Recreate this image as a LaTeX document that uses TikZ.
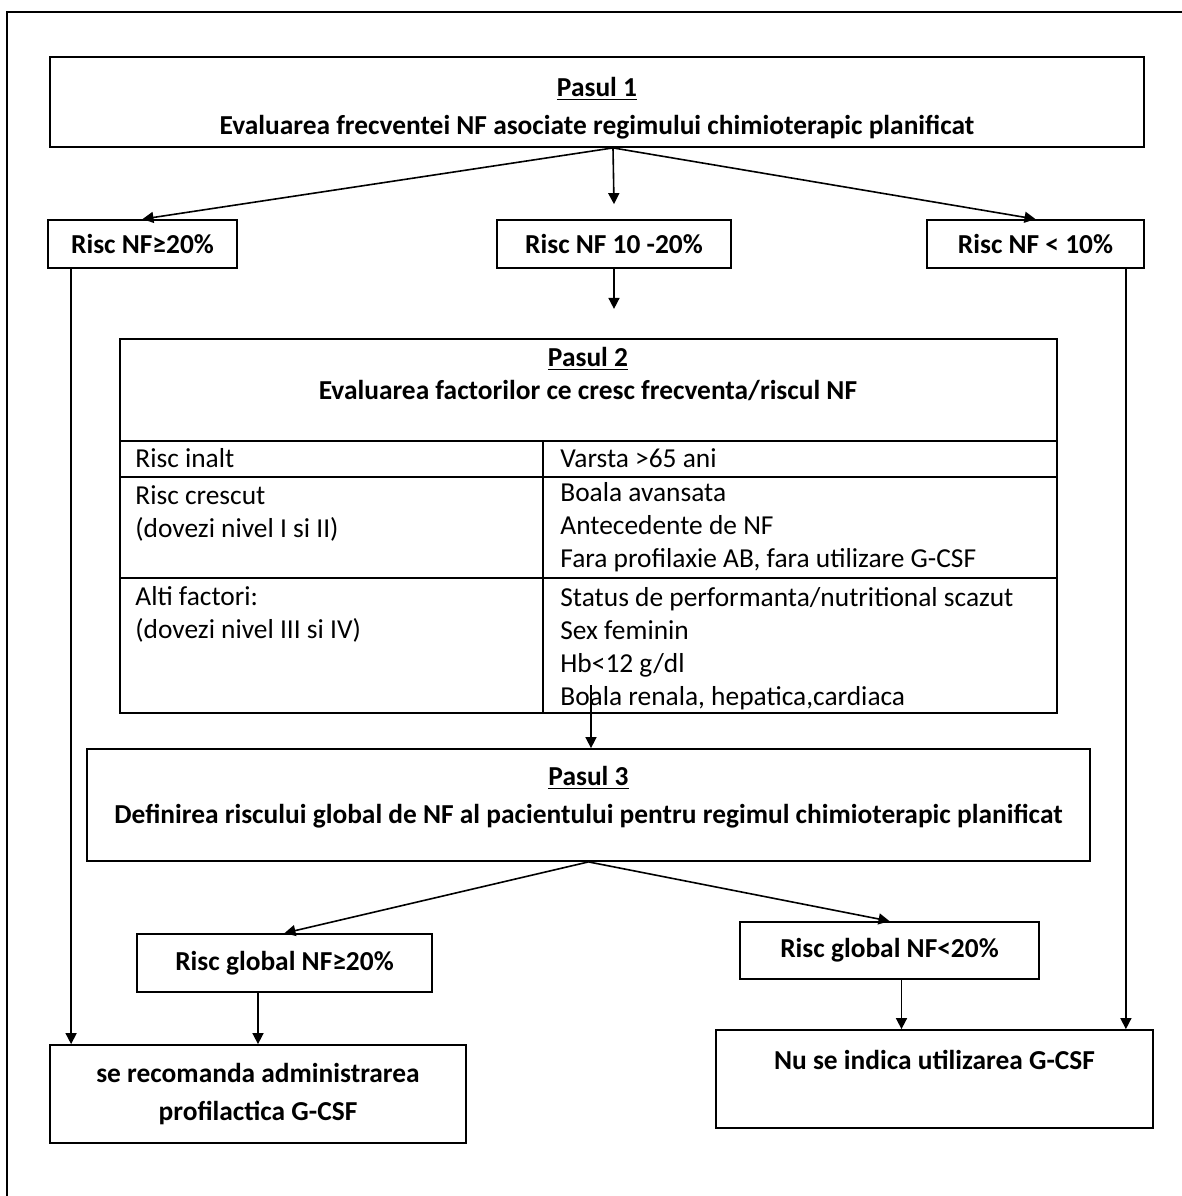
\documentclass[tikz,border=0pt]{standalone}
\usepackage{fontspec}
\setmainfont{Carlito}
\usetikzlibrary{arrows.meta}
\tikzset{box/.style={black,draw=black,line width=0.9pt,rectangle,inner sep=0pt,align=center,font=\fontsize{13.7}{19}\selectfont\bfseries}}
\tikzset{cell/.style={black,inner sep=0pt,anchor=base west,align=left,font=\fontsize{13.7}{16.5}\selectfont}}
\tikzset{arr/.style={draw=black,line width=0.8pt,-{Triangle[length=5.5pt,width=5.5pt]}}}
\tikzset{grid/.style={draw=black,line width=0.9pt}}

\begin{document}
\begin{tikzpicture}[x=0.5pt,y=-0.5pt]
    \useasboundingbox (0,0) rectangle (1182,1196);
    \draw[grid] (7,1196) -- (7,12) -- (1182,12);

    \node[box,minimum width=547pt,minimum height=45pt] (s1) at (597,102)
    {\rule{0pt}{16pt}\underline{Pasul 1}\\Evaluarea frecventei NF asociate regimului chimioterapic planificat};

    \node[box,minimum width=94.5pt,minimum height=24pt] (r1) at (142.5,244) {Risc NF≥20\%};
    \node[box,minimum width=117pt,minimum height=24pt] (r2) at (614,244) {Risc NF 10 -20\%};
    \node[box,minimum width=108.5pt,minimum height=24pt] (r3) at (1035.5,244) {Risc NF < 10\%};

    % Pasul 2 table
    \node[box,minimum width=468.5pt,minimum height=187pt] (p2) at (588.5,526) {};
    \node[box,draw=none,font=\fontsize{13.7}{16.5}\selectfont\bfseries] (p2t) at (588,374)
    {\underline{Pasul 2}\\Evaluarea factorilor ce cresc frecventa/riscul NF};
    \draw[grid] (120,441) -- (1057,441);
    \draw[grid] (120,477) -- (1057,477);
    \draw[grid] (120,578) -- (1057,578);
    \draw[grid] (543,441) -- (543,713);

    \node[cell] (c11) at (135,467) {Risc inalt};
    \node[cell] (c12) at (560,467) {Varsta >65 ani};
    \node[cell] (c21) at (135,537) {Risc crescut\\(dovezi nivel I si II)};
    \node[cell] (c22) at (560,567) {Boala avansata\\Antecedente de NF\\Fara profilaxie AB, fara utilizare G-CSF};
    \node[cell] (c31) at (135,638) {Alti factori:\\(dovezi nivel III si IV)};
    \node[cell] (c32) at (560,705) {Status de performanta/nutritional scazut\\Sex feminin\\Hb<12 g/dl\\Boala renala, hepatica,cardiaca};

    \node[box,minimum width=501.5pt,minimum height=56pt] (p3) at (588.5,805)
    {\underline{Pasul 3}\\Definirea riscului global de NF al pacientului pentru regimul chimioterapic planificat\\[-9pt]\mbox{}};

    \node[box,minimum width=147.5pt,minimum height=29pt] (g1) at (284.5,963) {Risc global NF≥20\%};
    \node[box,minimum width=149.5pt,minimum height=28.5pt] (g2) at (889.5,950.5) {Risc global NF<20\%};

    \node[box,minimum width=208pt,minimum height=49pt] (rec) at (258,1094)
    {se recomanda administrarea\\profilactica G-CSF};
    \node[box,minimum width=218.5pt,minimum height=49pt] (nu) at (934.5,1079)
    {Nu se indica utilizarea G-CSF\\\mbox{}};

    \coordinate (s1o) at ([xshift=8pt]s1.south);
    \draw[arr] (s1o) -- (r1.north);
    \draw[arr] (s1o) -- ([yshift=7.5pt]r2.north);
    \draw[arr] (s1o) -- (r3.north);
    \coordinate (r2o) at ([yshift=-20pt]r2.south);
    \draw[arr] (r2.south) -- (r2o);

    \coordinate (r1o) at ([xshift=12pt]r1.south west);
    \draw[arr] (r1o) -- (r1o |- rec.north);
    \coordinate (r3o) at ([xshift=-9.5pt]r3.south east);
    \draw[arr] (r3o) -- (r3o |- nu.north);

    \coordinate (p2o) at (591,685);
    \draw[arr] (p2o) -- (p2o |- p3.north);
    \draw[arr] (p3.south) -- (g1.north);
    \draw[arr] (p3.south) -- (g2.north);
    \draw[arr] (rec.north |- g1.south) -- (rec.north);
    \coordinate (g2o) at ([xshift=6pt]g2.south);
    \draw[arr] (g2o) -- (g2o |- nu.north);
\end{tikzpicture}
\end{document}
